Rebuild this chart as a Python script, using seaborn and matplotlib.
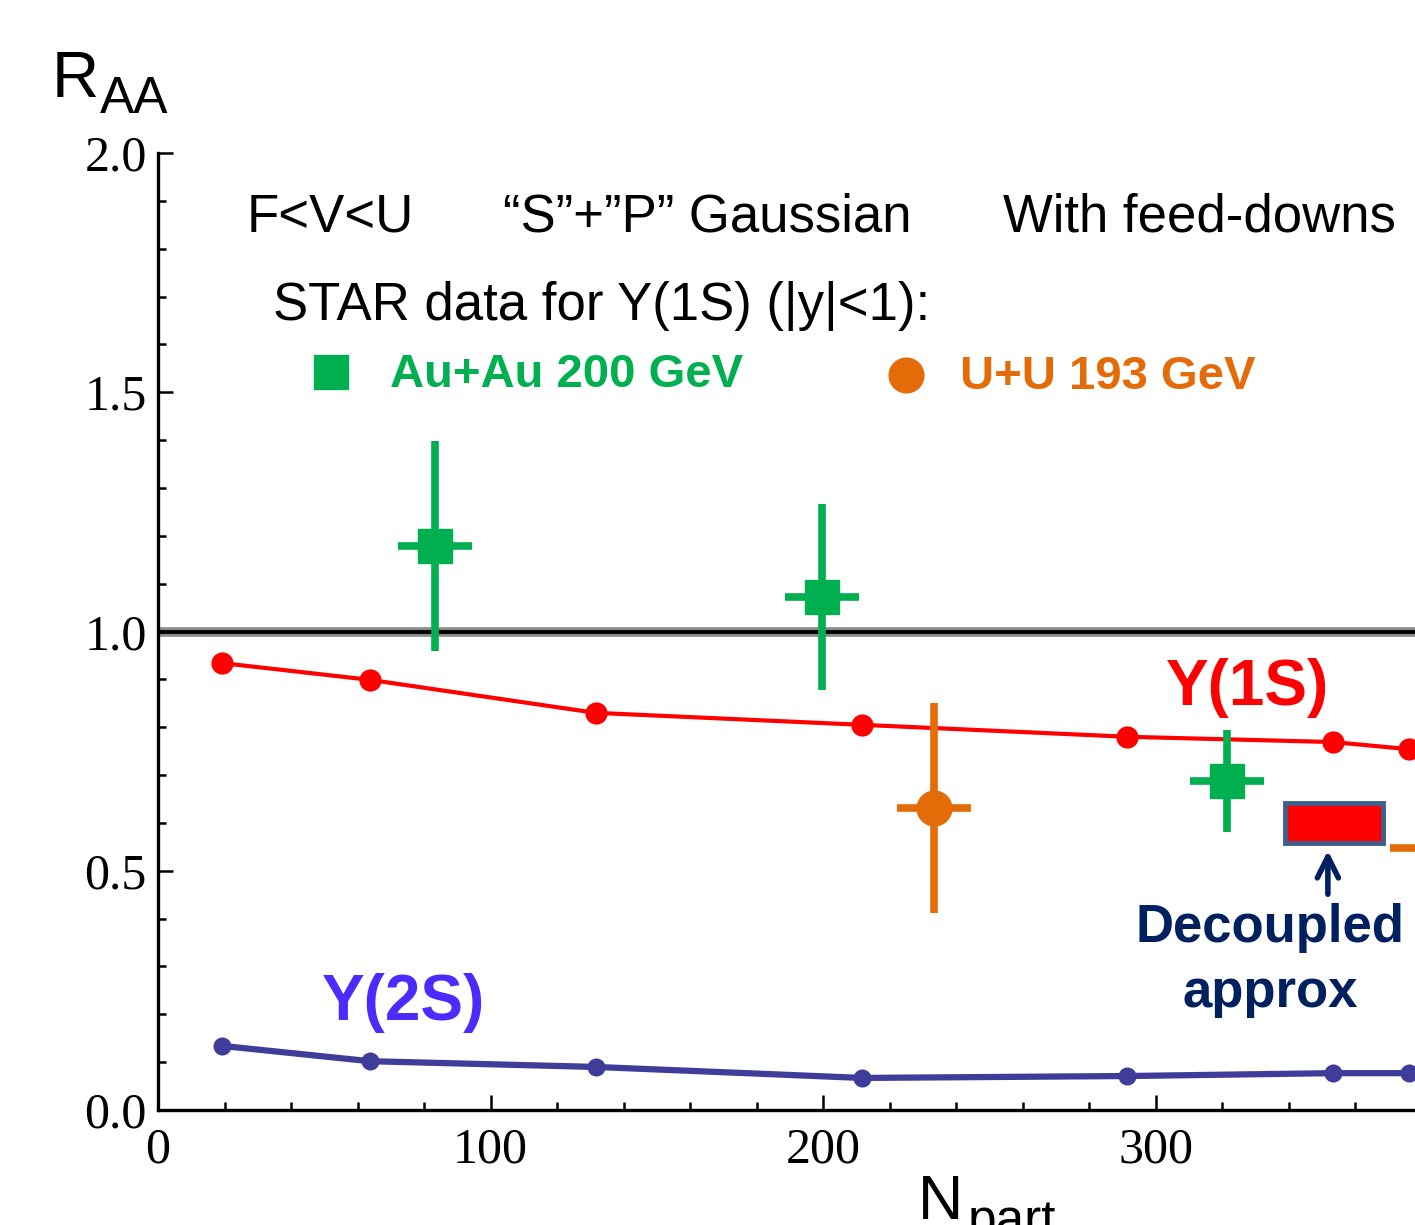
import numpy as np
import pandas as pd
import matplotlib
matplotlib.use("Agg")
import matplotlib.pyplot as plt
import matplotlib.patches as mpatches
import seaborn as sns

# ---- data ----
npart_model = [19.2, 63.7, 131.6, 211.6, 291.5, 353.2, 376.3]
raa_1s = [0.934, 0.899, 0.830, 0.805, 0.780, 0.769, 0.754]
raa_2s = [0.134, 0.102, 0.090, 0.067, 0.071, 0.077, 0.077]

auau_npart = [83.3, 199.7, 321.5]
auau_raa = [1.179, 1.072, 0.688]
auau_yerr = [0.22, 0.195, 0.107]
auau_xerr = [11.2, 11.2, 11.2]

uu_npart = [233.4, 383.0]
uu_raa = [0.631, 0.548]
uu_yerr = [0.22, 0.20]
uu_xerr = [11.2, 12.5]

# decoupled approximation band (x range, y range)
decoupled_x = [338.9, 368.3]
decoupled_y = [0.558, 0.642]

x_major = [0, 100, 200, 300]
y_major = [0.0, 0.5, 1.0, 1.5, 2.0]

GREEN = "#00b050"
ORANGE = "#e36c09"
RED = "#ff0000"
BLUE_LINE = "#403c9a"
BLUE_TXT = "#4a2cff"
NAVY = "#002060"

sns.set_theme(style="white")
plt.rcParams["font.family"] = ["Liberation Sans", "DejaVu Sans"]
plt.rcParams["text.color"] = "black"

fig = plt.figure(figsize=(14.15, 12.25), dpi=100)
ax = fig.add_axes([158 / 1415, 1 - 1110 / 1225, 1257 / 1415, 957 / 1225])

# reference line at 1
ax.axhline(1.0, color="#8c8c8c", lw=7, zorder=1)
ax.axhline(1.0, color="black", lw=2.8, zorder=2)

df = pd.DataFrame({"npart": npart_model, "r1s": raa_1s, "r2s": raa_2s})
sns.lineplot(data=df, x="npart", y="r1s", ax=ax, color=RED, lw=3,
             marker="o", markersize=16, markeredgewidth=0, zorder=3)
sns.lineplot(data=df, x="npart", y="r2s", ax=ax, color=BLUE_LINE, lw=4.5,
             marker="o", markersize=13, markeredgewidth=0, zorder=3)

ax.errorbar(auau_npart, auau_raa, yerr=auau_yerr, xerr=auau_xerr, fmt="s",
            color=GREEN, ms=24, elinewidth=5.5, capsize=0, zorder=4)
ax.errorbar(uu_npart, uu_raa, yerr=uu_yerr, xerr=uu_xerr, fmt="o",
            color=ORANGE, ms=25, elinewidth=5.5, capsize=0, zorder=4)

rect = mpatches.FancyBboxPatch((decoupled_x[0], decoupled_y[0]),
                               decoupled_x[1] - decoupled_x[0],
                               decoupled_y[1] - decoupled_y[0],
                               boxstyle="square,pad=0", facecolor=RED,
                               edgecolor="#3f5e8c", lw=3.5, zorder=5)
ax.add_patch(rect)
ax.annotate("", xy=(351.8, 0.548), xytext=(351.8, 0.445),
            arrowprops=dict(arrowstyle="->", color=NAVY, lw=4,
                            mutation_scale=38), zorder=5)

ax.set_xlim(0, 378)
ax.set_ylim(0, 2.0)
ax.set_xticks(x_major)
ax.set_xticks(np.arange(0, 378, 20), minor=True)
ax.set_yticks(y_major)
ax.set_yticks(np.arange(0, 2.01, 0.1), minor=True)
ax.set_yticklabels([f"{v:.1f}" for v in y_major])
ax.set_xlabel("")
ax.set_ylabel("")
for lab in ax.get_xticklabels() + ax.get_yticklabels():
    lab.set_fontfamily("Liberation Serif")
    lab.set_fontsize(36)
    lab.set_color("black")
ax.tick_params(axis="both", which="major", direction="in", length=11,
               width=1.8, color="black", pad=8)
ax.tick_params(axis="both", which="minor", direction="in", length=6,
               width=1.8, color="black")
ax.tick_params(axis="x", which="major", pad=12)
ax.tick_params(left=True, bottom=True, which="both")
sns.despine(ax=ax, top=True, right=True)
for s in ["left", "bottom"]:
    ax.spines[s].set_color("black")
    ax.spines[s].set_linewidth(2.4)
ax.grid(False)

# annotations (axes fraction)
tr = ax.transAxes
ax.text(0.0708, 0.933, "F<V<U", fontsize=38, va="center", ha="left", transform=tr)
ax.text(0.2745, 0.933, "\u201cS\u201d+\u201dP\u201d Gaussian", fontsize=38,
        va="center", ha="left", transform=tr)
ax.text(0.672, 0.933, "With feed-downs", fontsize=38, va="center", ha="left",
        transform=tr)
ax.text(0.0915, 0.840, "STAR data for Y(1S) (|y|<1):", fontsize=38,
        va="center", ha="left", transform=tr)

ax.plot([0.1376], [0.771], "s", color=GREEN, ms=24, transform=tr, clip_on=False)
ax.text(0.1846, 0.768, "Au+Au 200 GeV", fontsize=34, fontweight="bold",
        color=GREEN, va="center", ha="left", transform=tr)
ax.plot([0.595], [0.768], "o", color=ORANGE, ms=25, transform=tr, clip_on=False)
ax.text(0.638, 0.766, "U+U 193 GeV", fontsize=34, fontweight="bold",
        color=ORANGE, va="center", ha="left", transform=tr)

ax.text(0.867, 0.441, "Y(1S)", fontsize=46, fontweight="bold", color=RED,
        va="center", ha="center", transform=tr)
ax.text(0.195, 0.112, "Y(2S)", fontsize=46, fontweight="bold", color=BLUE_TXT,
        va="center", ha="center", transform=tr)
ax.text(0.885, 0.190, "Decoupled", fontsize=38, fontweight="bold", color=NAVY,
        va="center", ha="center", transform=tr)
ax.text(0.885, 0.122, "approx", fontsize=38, fontweight="bold", color=NAVY,
        va="center", ha="center", transform=tr)

# axis titles
fig.text(52 / 1415, 1 - 97 / 1225, "R", fontsize=47, va="baseline", ha="left")
fig.text(100 / 1415, 1 - 113 / 1225, "AA", fontsize=37, va="baseline", ha="left")
fig.text(918 / 1415, 1 - 1219 / 1225, "N", fontsize=45, va="baseline", ha="left")
fig.text(968 / 1415, 1 - 1236 / 1225, "part", fontsize=37, va="baseline", ha="left")

fig.savefig("out.png", dpi=100)
